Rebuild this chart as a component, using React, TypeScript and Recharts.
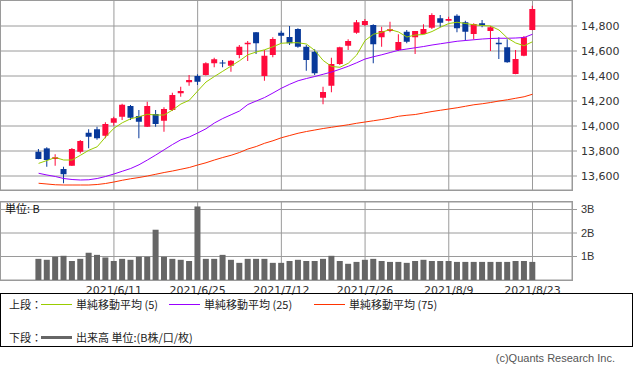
import React from 'react';
import {
  ComposedChart,
  Bar,
  Line,
  XAxis,
  YAxis,
  CartesianGrid,
} from 'recharts';

// trading days, 2021
const dates = [
  '5/28', '6/1', '6/2', '6/3', '6/4', '6/7', '6/8', '6/9', '6/10', '6/11',
  '6/14', '6/15', '6/16', '6/17', '6/18', '6/21', '6/22', '6/23', '6/24', '6/25',
  '6/28', '6/29', '6/30', '7/1', '7/2', '7/6', '7/7', '7/8', '7/9', '7/12',
  '7/13', '7/14', '7/15', '7/16', '7/19', '7/20', '7/21', '7/22', '7/23', '7/26',
  '7/27', '7/28', '7/29', '7/30', '8/2', '8/3', '8/4', '8/5', '8/6', '8/9',
  '8/10', '8/11', '8/12', '8/13', '8/16', '8/17', '8/18', '8/19', '8/20', '8/23',
];

const tickDates = ['6/11', '6/25', '7/12', '7/26', '8/9', '8/23'];

const open = [
  13794, 13821, 13736, 13656, 13682, 13794, 13946, 13974, 13922, 14026,
  14074, 14160, 14080, 13994, 14096, 14042, 14128, 14262, 14350, 14400,
  14408, 14502, 14508, 14482, 14568, 14654, 14750, 14400, 14568, 14746,
  14712, 14776, 14634, 14594, 14226, 14322, 14496, 14642, 14746, 14808,
  14808, 14710, 14760, 14608, 14754, 14710, 14736, 14786, 14862, 14842,
  14882, 14830, 14736, 14822, 14760, 14666, 14630, 14416, 14562, 14768,
];
const high = [
  13816, 13830, 13774, 13674, 13824, 13888, 13974, 13994, 14030, 14074,
  14178, 14168, 14128, 14194, 14128, 14150, 14266, 14314, 14408, 14414,
  14510, 14546, 14528, 14528, 14648, 14680, 14752, 14608, 14710, 14762,
  14800, 14782, 14648, 14614, 14314, 14546, 14634, 14694, 14848, 14856,
  14814, 14794, 14834, 14734, 14768, 14760, 14814, 14902, 14888, 14874,
  14894, 14842, 14822, 14848, 14800, 14710, 14694, 14608, 14720, 14962,
];
const low = [
  13734, 13674, 13682, 13542, 13680, 13781, 13822, 13890, 13902, 14002,
  14048, 14048, 13902, 13992, 13994, 13954, 14120, 14234, 14322, 14328,
  14404, 14470, 14470, 14434, 14542, 14520, 14576, 14362, 14550, 14662,
  14648, 14626, 14442, 14408, 14174, 14270, 14488, 14608, 14738, 14800,
  14502, 14634, 14750, 14600, 14662, 14576, 14734, 14776, 14790, 14838,
  14750, 14682, 14694, 14790, 14600, 14536, 14506, 14414, 14558, 14766,
];
const close = [
  13736, 13728, 13750, 13614, 13816, 13880, 13914, 13902, 14016, 14062,
  14170, 14066, 14034, 14160, 14016, 14136, 14248, 14280, 14368, 14354,
  14502, 14534, 14504, 14522, 14634, 14666, 14662, 14562, 14696, 14722,
  14662, 14634, 14528, 14422, 14272, 14496, 14630, 14680, 14830, 14840,
  14654, 14760, 14774, 14672, 14674, 14760, 14776, 14888, 14826, 14856,
  14782, 14754, 14816, 14802, 14790, 14654, 14510, 14536, 14710, 14936,
];

const ma5 = [
  13701, 13724, 13748, 13728, 13728, 13766, 13806, 13834, 13912, 13982,
  14026, 14058, 14074, 14094, 14088, 14088, 14128, 14176, 14206, 14280,
  14352, 14396, 14438, 14480, 14522, 14570, 14592, 14610, 14634, 14662,
  14666, 14666, 14656, 14604, 14524, 14476, 14470, 14502, 14568, 14684,
  14734, 14750, 14772, 14752, 14712, 14728, 14732, 14756, 14790, 14820,
  14830, 14820, 14810, 14804, 14800, 14768, 14704, 14664, 14642, 14674,
];
const ma25 = [
  13622, 13608, 13596, 13580, 13572, 13568, 13570, 13580, 13596, 13616,
  13638, 13660, 13690, 13728, 13768, 13810, 13852, 13890, 13912, 13944,
  13978, 14024, 14060, 14090, 14120, 14172, 14200, 14228, 14264, 14302,
  14334, 14362, 14380, 14396, 14414, 14432, 14454, 14478, 14506, 14536,
  14554, 14570, 14588, 14606, 14616, 14626, 14636, 14648, 14658, 14668,
  14678, 14684, 14690, 14696, 14700, 14702, 14702, 14704, 14708, 14734,
];
const ma75 = [
  13542, 13536, 13530, 13528, 13528, 13528, 13528, 13532, 13540, 13552,
  13566, 13578, 13588, 13600, 13614, 13628, 13640, 13654, 13668, 13688,
  13706, 13728, 13748, 13766, 13788, 13816, 13836, 13862, 13882, 13906,
  13924, 13942, 13956, 13968, 13980, 13990, 14000, 14010, 14022, 14032,
  14042, 14052, 14064, 14078, 14086, 14092, 14104, 14116, 14126, 14136,
  14146, 14158, 14170, 14178, 14188, 14200, 14210, 14222, 14234, 14254,
];

// volume, billions
const volume = [
  0.9, 0.86, 0.99, 1.03, 0.81, 0.9, 1.16, 1.07, 0.96, 0.81,
  0.9, 0.86, 0.99, 0.99, 2.14, 0.99, 0.9, 0.86, 0.81, 3.13,
  0.9, 0.9, 1.07, 0.86, 0.73, 0.9, 0.9, 0.9, 0.73, 0.73,
  0.81, 0.86, 0.81, 0.81, 0.9, 1.03, 0.81, 0.69, 0.77, 0.86,
  0.9, 0.81, 0.77, 0.77, 0.73, 0.81, 0.86, 0.81, 0.81, 0.81,
  0.77, 0.77, 0.77, 0.77, 0.77, 0.77, 0.77, 0.81, 0.81, 0.77,
];

const priceTicks = [13600, 13800, 14000, 14200, 14400, 14600, 14800];
const volTicks = [1, 2, 3];

const UP = '#ff0a3c';
const DOWN = '#08399a';
const GRID = '#9a9a9a';
const CJK = '"Noto Sans CJK JP", sans-serif';

const rows = dates.map((d, i) => ({
  i,
  date: d,
  open: open[i],
  high: high[i],
  low: low[i],
  close: close[i],
  ma5: ma5[i],
  ma25: ma25[i],
  ma75: ma75[i],
  vol: volume[i],
}));

const xTicks = tickDates.map((d) => dates.indexOf(d));
const xDomain = [-4.61, 63.72];

const Candle = (props: any) => {
  const { x, y, width, height, payload } = props;
  const span = payload.high - payload.low || 1;
  const toY = (v: number) => y + ((payload.high - v) / span) * height;
  const color = payload.close >= payload.open ? UP : DOWN;
  const cx = x + width / 2;
  const top = toY(Math.max(payload.open, payload.close));
  const bot = toY(Math.min(payload.open, payload.close));
  return (
    <g>
      <rect x={cx - 0.5} y={y} width={1} height={height} fill={color} />
      <rect x={cx - 3} y={top} width={6} height={Math.max(1, bot - top)} fill={color} />
    </g>
  );
};

const axisText = { fontSize: 11, fill: '#333', fontFamily: 'DejaVu Sans' };

const LegendLine = ({ color, thick }: { color: string; thick?: boolean }) => (
  <span
    style={{
      display: 'inline-block',
      width: 31,
      height: thick ? 3 : 1,
      background: color,
      margin: '0 4px 0 0',
    }}
  />
);

const App: React.FC = () => {
  return (
    <div
      style={{
        position: 'absolute',
        left: 0,
        top: 0,
        width: 633,
        height: 372,
        background: '#fff',
        overflow: 'hidden',
      }}
    >
      {/* price panel */}
      <div style={{ position: 'absolute', left: 0, top: 0 }}>
        <ComposedChart
          width={633}
          height={191}
          data={rows}
          margin={{ top: 0, right: 0, left: 0, bottom: 1 }}
        >
          <CartesianGrid stroke={GRID} />
          <XAxis
            dataKey="i"
            type="number"
            domain={xDomain}
            ticks={xTicks}
            allowDataOverflow
            hide
          />
          <YAxis
            orientation="right"
            width={61}
            domain={[13488, 15008]}
            ticks={priceTicks}
            allowDataOverflow
            axisLine={false}
            tickLine={{ stroke: GRID }}
            tickSize={5}
            tickMargin={4}
            tick={axisText}
            tickFormatter={(v: number) => v.toLocaleString('en-US')}
          />
          <Line dataKey="ma75" stroke="#ff3300" strokeWidth={1} dot={false} activeDot={false} isAnimationActive={false} />
          <Line dataKey="ma25" stroke="#9900ff" strokeWidth={1} dot={false} activeDot={false} isAnimationActive={false} />
          <Line dataKey="ma5" stroke="#99cc00" strokeWidth={1} dot={false} activeDot={false} isAnimationActive={false} />
          <Bar
            dataKey={(r: any) => [r.low, r.high]}
            barSize={6}
            shape={Candle}
            activeBar={false}
            isAnimationActive={false}
          />
        </ComposedChart>
        <div
          style={{
            position: 'absolute',
            left: 0,
            top: 0,
            width: 573,
            height: 191,
            border: `1px solid ${GRID}`,
            boxSizing: 'border-box',
            pointerEvents: 'none',
          }}
        />
      </div>

      {/* volume panel */}
      <div style={{ position: 'absolute', left: 0, top: 190 }}>
        <ComposedChart
          width={633}
          height={110}
          data={rows}
          margin={{ top: 12, right: 0, left: 0, bottom: 0 }}
        >
          <CartesianGrid stroke={GRID} />
          <XAxis
            dataKey="i"
            type="number"
            domain={xDomain}
            ticks={xTicks}
            allowDataOverflow
            height={20}
            axisLine={false}
            tickLine={false}
            tickSize={3}
            tickMargin={3}
            tick={axisText}
            tickFormatter={(v: number) => '2021/' + dates[v]}
          />
          <YAxis
            orientation="right"
            width={61}
            domain={[0, 3.32]}
            ticks={volTicks}
            allowDataOverflow
            axisLine={false}
            tickLine={{ stroke: GRID }}
            tickSize={5}
            tickMargin={4}
            tick={{ ...axisText, fontFamily: 'Liberation Sans' }}
            tickFormatter={(v: number) => v + 'B'}
          />
          <Bar dataKey="vol" barSize={6} fill="#666666" activeBar={false} isAnimationActive={false} />
        </ComposedChart>
        <div
          style={{
            position: 'absolute',
            left: 0,
            top: 11,
            width: 573,
            height: 80,
            border: `1px solid ${GRID}`,
            boxSizing: 'border-box',
            pointerEvents: 'none',
          }}
        />
        <div
          style={{
            position: 'absolute',
            left: 5,
            top: 11,
            fontSize: 11,
            lineHeight: '14px',
            fontFamily: CJK,
            color: '#111',
          }}
        >
          単位: B
        </div>
      </div>

      {/* legend */}
      <div
        style={{
          position: 'absolute',
          left: 0,
          top: 293,
          width: 633,
          height: 54,
          border: '1px solid #000',
          boxSizing: 'border-box',
          fontFamily: CJK,
          fontSize: 11,
          color: '#222',
        }}
      >
        <div style={{ position: 'absolute', left: 8, top: 2, height: 16, display: 'flex', alignItems: 'center', whiteSpace: 'nowrap' }}>
          <span style={{ width: 32 }}>上段：</span>
          <LegendLine color="#99cc00" />
          <span style={{ width: 93 }}>単純移動平均 (5)</span>
          <LegendLine color="#9900ff" />
          <span style={{ width: 110 }}>単純移動平均 (25)</span>
          <LegendLine color="#ff3300" />
          <span>単純移動平均 (75)</span>
        </div>
        <div style={{ position: 'absolute', left: 8, top: 35, height: 16, display: 'flex', alignItems: 'center', whiteSpace: 'nowrap' }}>
          <span style={{ width: 32 }}>下段：</span>
          <LegendLine color="#666666" thick />
          <span>出来高 単位:(B株/口/枚)</span>
        </div>
      </div>

      <div
        style={{
          position: 'absolute',
          right: 18,
          top: 350,
          fontFamily: 'Liberation Sans',
          fontSize: 11,
          lineHeight: '16px',
          color: '#555',
        }}
      >
        (c)Quants Research Inc.
      </div>
    </div>
  );
};

export default App;
